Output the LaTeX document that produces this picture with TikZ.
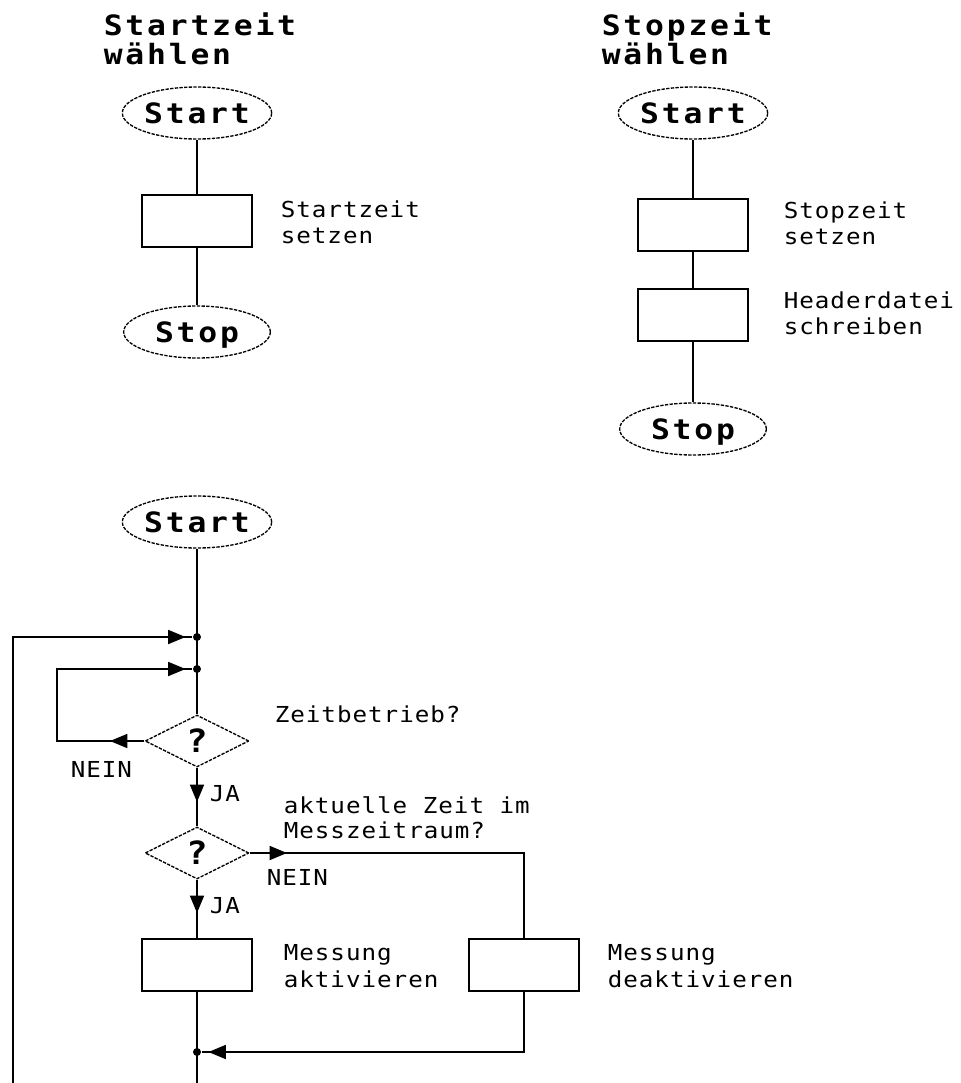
\documentclass[tikz,border=0pt]{standalone}
\usepackage{fontspec}
\usetikzlibrary{shapes.geometric,arrows.meta}
\newfontfamily\ttlfont[FakeStretch=1.12,LetterSpace=10]{DejaVu Sans Mono}
\newfontfamily\lblfont[FakeStretch=1.1,LetterSpace=4.5]{DejaVu Sans Mono}
\newcommand\twol[3]{\vtop{\baselineskip=#3\lineskiplimit=-20pt\hbox{#1}\hbox{#2}}}
\begin{document}
\begin{tikzpicture}[x=0.75pt,y=-0.75pt,line width=1.2pt,
  term/.style={ellipse,draw,line width=1pt,dash pattern=on 2.5pt off 1pt,
    minimum width=110pt,minimum height=39pt,inner sep=0pt,
    font=\ttlfont\bfseries\fontsize{21pt}{21.75pt}\selectfont,text height=15.3pt,text depth=0pt},
  proc/.style={rectangle,draw,minimum width=82.5pt,minimum height=39pt,inner sep=0pt},
  dec/.style={diamond,draw,line width=1pt,dash pattern=on 2.5pt off 1pt,
    minimum width=78pt,minimum height=39pt,inner sep=0pt,
    font=\ttlfont\bfseries\fontsize{24pt}{26pt}\selectfont,text height=17.5pt,text depth=0pt},
  dot/.style={circle,fill,inner sep=0pt,minimum size=6pt},
  arr/.style={-{Triangle[length=13pt,width=10.5pt]}},
  lbl/.style={font=\lblfont\fontsize{16.5pt}{19.5pt}\selectfont,inner sep=0pt,anchor=base west},
  ttl/.style={font=\ttlfont\bfseries\fontsize{21pt}{21.75pt}\selectfont,inner sep=0pt,anchor=base west}
]
\fill[white] (0,0) rectangle (961,1083);
\useasboundingbox (0,0) rectangle (961,1083);

% left column
\node[ttl] (t1) at (103,35) {\twol{Startzeit}{wählen}{21.75pt}};
\node[term] (a1) at (197,113) {Start};
\node[proc] (a2) at (197,221) {};
\node[term] (a3) at (197,332) {Stop};
\node[lbl] (la2) at (280,217) {\twol{Startzeit}{setzen}{19.5pt}};
\draw (a1) -- (a2) -- (a3);

% right column
\node[ttl] (t2) at (601,35) {\twol{Stopzeit}{wählen}{21.75pt}};
\node[term] (b1) at (693,113) {Start};
\node[proc] (b2) at (693,225) {};
\node[proc] (b3) at (693,315) {};
\node[term] (b4) at (693,429) {Stop};
\node[lbl] (lb2) at (783,218) {\twol{Stopzeit}{setzen}{19.5pt}};
\node[lbl] (lb3) at (783,308) {\twol{Headerdatei}{schreiben}{19.5pt}};
\draw (b1) -- (b2) -- (b3) -- (b4);

% bottom flowchart
\node[term] (c1) at (197,522) {Start};
\node[dot] (j1) at (197,637) {};
\node[dot] (j2) at (197,669) {};
\node[dec] (d1) at (197,741) {?};
\node[dec] (d2) at (197,853) {?};
\node[proc] (r1) at (197,965) {};
\node[proc] (r2) at (524,965) {};
\node[dot] (j3) at (197,1052) {};
\coordinate (bot1) at (197,1083);
\coordinate (bot2) at (13,1083);
\coordinate (o1) at (13,637);
\coordinate (i1) at (57,741);
\coordinate (i2) at (57,669);
\coordinate (n2c) at (524,853);
\coordinate (b2c) at (524,1052);
\coordinate (tipA) at (110,741);
\coordinate (tipB) at (197,802);
\coordinate (tipC) at (287,853);
\coordinate (tipD) at (197,913);

\draw (c1) -- (d1);
\draw (d1) -- (d2);
\draw[arr] (d1.south) -- (tipB);
\draw (d2) -- (r1);
\draw[arr] (d2.south) -- (tipD);
\draw (r1) -- (bot1);
\draw (bot2) -- (o1) -- (j1);
\draw[arr,shorten >=5pt] (o1) -- (j1);
\draw (d1.west) -- (i1) -- (i2) -- (j2);
\draw[arr] (d1.west) -- (tipA);
\draw[arr,shorten >=5pt] (i2) -- (j2);
\draw (d2.east) -- (n2c) -- (r2);
\draw[arr] (d2.east) -- (tipC);
\draw (r2) -- (b2c) -- (j3);
\draw[arr,shorten >=5pt] (b2c) -- (j3);

\node[lbl] (q1) at (274,722) {Zeitbetrieb?};
\node[lbl] (n1) at (70,777) {NEIN};
\node[lbl] (y1) at (209,801) {JA};
\node[lbl] (q2) at (283,813) {\twol{aktuelle Zeit im}{Messzeitraum?}{18.75pt}};
\node[lbl] (n2) at (266,885) {NEIN};
\node[lbl] (y2) at (209,913) {JA};
\node[lbl] (m1) at (283,960) {\twol{Messung}{aktivieren}{20.25pt}};
\node[lbl] (m2) at (607,960) {\twol{Messung}{deaktivieren}{20.25pt}};
\end{tikzpicture}
\end{document}
